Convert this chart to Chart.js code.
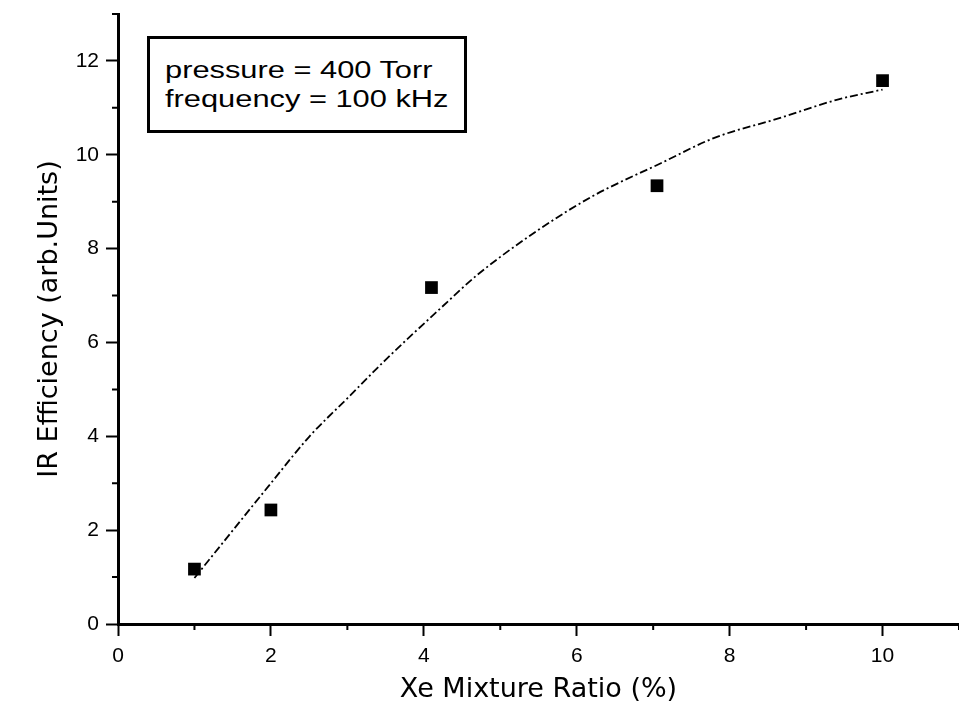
<!DOCTYPE html>
<html>
<head>
<meta charset="utf-8">
<script src="https://cdn.jsdelivr.net/npm/chart.js@4.4.1/dist/chart.umd.min.js"></script>
<style>
  html, body { margin: 0; padding: 0; background: #fff; }
  #wrap { position: relative; width: 959px; height: 717px; }
  #note {
    position: absolute; left: 147px; top: 36px; width: 314px; height: 91px;
    border: 3px solid #000; background: #fff;
    font-family: "Liberation Sans", Arial, sans-serif; font-size: 23px; line-height: 23px;
  }
  #note span {
    position: absolute; left: 15px; white-space: nowrap;
    transform: scaleX(1.34); transform-origin: left center;
  }
</style>
</head>
<body>
<div id="wrap">
  <canvas id="c" width="959" height="717"></canvas>
  <div id="note">
    <span style="top:20px">pressure = 400 Torr</span>
    <span style="top:49px">frequency = 100 kHz</span>
  </div>
</div>
<script>
// measured points
const xMix  = [1, 2, 4.1, 7.05, 10];
const irEff = [1.17, 2.43, 7.17, 9.34, 11.58];

// fit curve
const fitX = [1.0, 2.0, 2.5, 3.0, 3.5, 4.2, 4.7, 5.5, 6.2, 7.1, 7.8, 8.65, 9.4, 10.0];
const fitY = [0.98, 3.0, 3.99, 4.81, 5.63, 6.70, 7.44, 8.40, 9.11, 9.82, 10.36, 10.78, 11.17, 11.39];

const xTicks = [0, 2, 4, 6, 8, 10];
const yTicks = [0, 2, 4, 6, 8, 10, 12];

const font = 'Liberation Sans, Arial, sans-serif';
const titleFont = 'DejaVu Sans, Liberation Sans, sans-serif';

// short ticks for the odd (minor) values, the labelled ones get the long tick
const minorTicks = {
    id: 'minorTicks',
    afterDraw(chart) {
        const { ctx, chartArea } = chart;
        const sx = chart.scales.x, sy = chart.scales.y;
        ctx.save();
        ctx.strokeStyle = '#000';
        ctx.lineWidth = 2;
        ctx.beginPath();
        for (let v = sx.min; v <= sx.max; v++) {
            if (xTicks.includes(v)) continue;
            const px = sx.getPixelForValue(v);
            ctx.moveTo(px, chartArea.bottom);
            ctx.lineTo(px, chartArea.bottom + 6);
        }
        for (let v = sy.min; v <= sy.max; v++) {
            if (yTicks.includes(v)) continue;
            const py = sy.getPixelForValue(v);
            ctx.moveTo(chartArea.left, py);
            ctx.lineTo(chartArea.left - 6, py);
        }
        ctx.stroke();
        ctx.restore();
    },
};

new Chart(document.getElementById('c'), {
    type: 'scatter',
    data: {
        datasets: [
            {
                label: 'data',
                data: xMix.map((x, i) => ({ x, y: irEff[i] })),
                pointStyle: 'rect', pointRadius: 9, pointHoverRadius: 9,
                backgroundColor: '#000', borderColor: '#000', borderWidth: 0,
                order: 1,
            },
            {
                label: 'fit',
                data: fitX.map((x, i) => ({ x, y: fitY[i] })),
                showLine: true, pointRadius: 0, tension: 0.4,
                cubicInterpolationMode: 'monotone',
                borderColor: '#000', borderWidth: 1.8, borderDash: [8, 3, 2, 3],
                order: 2,
            },
        ],
    },
    options: {
        responsive: false,
        animation: false,
        layout: { autoPadding: false, padding: { left: 0, top: 14, right: 0, bottom: 0 } },
        plugins: { legend: { display: false }, tooltip: { enabled: false } },
        scales: {
            x: {
                type: 'linear', min: 0, max: 11,
                afterFit: s => { s.height = 93; s.paddingLeft = 0; s.paddingRight = 0; },
                border: { color: '#000', width: 3 },
                grid: {
                    drawOnChartArea: false, tickLength: 12, tickWidth: 2,
                    tickColor: c => xTicks.includes(c.tick.value) ? '#000' : 'rgba(0,0,0,0)',
                },
                ticks: {
                    stepSize: 1, padding: 8, color: '#000',
                    font: { family: font, size: 21 },
                    callback: v => xTicks.includes(v) ? String(v) : '',
                },
                title: {
                    display: true, text: 'Xe Mixture Ratio (%)', color: '#000',
                    font: { family: titleFont, size: 27 }, padding: { top: 0, bottom: 11 },
                },
            },
            y: {
                type: 'linear', min: 0, max: 13,
                afterFit: s => { s.width = 118; s.paddingTop = 0; s.paddingBottom = 0; },
                border: { color: '#000', width: 3 },
                grid: {
                    drawOnChartArea: false, tickLength: 12, tickWidth: 2,
                    tickColor: c => yTicks.includes(c.tick.value) ? '#000' : 'rgba(0,0,0,0)',
                },
                ticks: {
                    stepSize: 1, padding: 7, color: '#000',
                    font: { family: font, size: 21 },
                    callback: v => yTicks.includes(v) ? String(v) : '',
                },
                title: {
                    display: true, text: 'IR Efficiency (arb.Units)', color: '#000',
                    font: { family: titleFont, size: 27 }, padding: { top: 34, bottom: 0 },
                },
            },
        },
    },
    plugins: [minorTicks],
});
</script>
</body>
</html>
